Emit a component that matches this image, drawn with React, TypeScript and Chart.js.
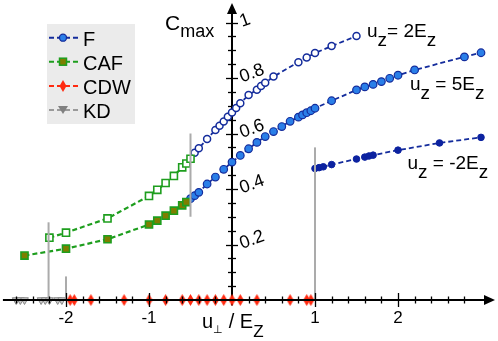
import React, { useEffect, useRef } from 'react';
import { Chart, registerables } from 'chart.js';

Chart.register(...registerables);

// ---------- data ----------
const F2_X = [-0.45, -0.4, -0.3, -0.2, -0.15, -0.1, -0.05, 0, 0.05, 0.1, 0.2, 0.3, 0.35, 0.4, 0.5, 0.8, 0.9, 1.0, 1.2, 1.5];
const F2_Y = [0.531, 0.547, 0.58, 0.613, 0.628, 0.643, 0.66, 0.676, 0.692, 0.709, 0.739, 0.758, 0.771, 0.783, 0.805, 0.857, 0.874, 0.89, 0.915, 0.951];

const F5_X = [-0.5, -0.45, -0.4, -0.3, -0.2, -0.1, 0, 0.1, 0.2, 0.3, 0.4, 0.5, 0.6, 0.7, 0.8, 0.85, 0.9, 0.95, 1.0, 1.2, 1.5, 1.6, 1.7, 1.8, 1.9, 2.0, 2.2, 2.8, 3.0];
const F5_Y = [0.365, 0.376, 0.388, 0.418, 0.443, 0.471, 0.497, 0.521, 0.545, 0.568, 0.589, 0.607, 0.625, 0.644, 0.659, 0.667, 0.675, 0.682, 0.691, 0.718, 0.757, 0.768, 0.777, 0.787, 0.799, 0.81, 0.829, 0.876, 0.891];

const FM2_X = [1.0, 1.05, 1.1, 1.2, 1.5, 1.6, 1.65, 1.7, 2.0, 2.5, 3.0];
const FM2_Y = [0.474, 0.477, 0.48, 0.488, 0.508, 0.515, 0.519, 0.522, 0.54, 0.566, 0.586];

const CAF2_X = [-2.2, -2.0, -1.5, -1.0, -0.9, -0.8, -0.7, -0.6, -0.55, -0.5];
const CAF2_Y = [0.2245, 0.2425, 0.294, 0.375, 0.397, 0.4216, 0.447, 0.478, 0.492, 0.509];

const CAF5_X = [-2.5, -2.0, -1.5, -1.0, -0.9, -0.8, -0.7, -0.6, -0.55];
const CAF5_Y = [0.16, 0.185, 0.219, 0.272, 0.286, 0.304, 0.322, 0.341, 0.353];

const CDW_X = [-1.95, -1.9, -1.7, -1.3, -1.0, -0.8, -0.6, -0.5, -0.4, -0.3, -0.2, -0.1, 0, 0.1, 0.3, 0.7, 0.9, 0.95];
const KD_X = [-2.6, -2.55, -2.5, -2.3, -2.25, -2.2, -2.1, -2.05];

const BOUNDARY_X = [-2.21, -2.0, -0.5, 1.0];
const BOUNDARY_Y0 = [0, 0, 0.3, 0];
const BOUNDARY_Y1 = [0.28, 0.085, 0.6, 0.55];

const X_TICK_VALUES = [-2, -1, 1, 2];
const X_TICK_LABELS = ['-2', '-1', '1', '2'];
const Y_TICK_VALUES = [0.2, 0.4, 0.6, 0.8, 1];
const Y_TICK_LABELS = ['0.2', '0.4', '0.6', '0.8', '1'];
const LEGEND_LABELS = ['F', 'CAF', 'CDW', 'KD'];

// ---------- styles ----------
const FONT = "'Liberation Sans', Arial, Helvetica, sans-serif";
const NAVY = '#142c9c';
const LIGHTBLUE = '#2a7fe8';
const DARKBLUE = '#0c22a0';
const GREEN = '#1e9e1e';
const OLIVE = '#7e7e00';
const RED = '#ff2a10';
const GRAY = '#9a9a9a';
const BOUND_GRAY = '#ababab';

function makeDiamond(w: number, h: number, color: string) {
  const c = document.createElement('canvas');
  c.width = w;
  c.height = h;
  const g = c.getContext('2d')!;
  g.fillStyle = color;
  g.beginPath();
  g.moveTo(w / 2, 0);
  g.lineTo(w, h / 2);
  g.lineTo(w / 2, h);
  g.lineTo(0, h / 2);
  g.closePath();
  g.fill();
  return c;
}

const zip = (xs: number[], ys: number[]) => xs.map((x, i) => ({ x, y: ys[i] }));

function drawRich(ctx: CanvasRenderingContext2D, x: number, y: number, parts: [string, number, number][]) {
  ctx.textAlign = 'left';
  ctx.textBaseline = 'alphabetic';
  for (const [t, size, dy] of parts) {
    ctx.font = `${size}px ${FONT}`;
    ctx.fillText(t, x, y + dy);
    x += ctx.measureText(t).width;
  }
}

const axesPlugin = {
  id: 'mathAxes',
  beforeDatasetsDraw(chart: any) {
    const ctx: CanvasRenderingContext2D = chart.ctx;
    const xs = chart.scales.x;
    const ys = chart.scales.y;
    const x0 = xs.getPixelForValue(0);
    ctx.save();
    ctx.strokeStyle = '#000';
    ctx.fillStyle = '#000';
    ctx.lineWidth = 2;
    // y axis
    ctx.beginPath();
    ctx.moveTo(x0, ys.getPixelForValue(-0.02));
    ctx.lineTo(x0, ys.getPixelForValue(1.04));
    ctx.stroke();
    // y ticks
    ctx.lineWidth = 1.3;
    for (let k = 1; k <= 20; k++) {
      const v = k * 0.05;
      const py = Math.round(ys.getPixelForValue(v)) + 0.5;
      const major = k % 4 === 0;
      const len = major ? 6 : 4;
      ctx.beginPath();
      ctx.moveTo(x0 - len, py);
      ctx.lineTo(x0 + len, py);
      ctx.stroke();
    }
    // y arrow
    const top = ys.getPixelForValue(1.0811) + 3;
    ctx.beginPath();
    ctx.moveTo(x0, top);
    ctx.lineTo(x0 - 5, top + 11);
    ctx.lineTo(x0 + 5, top + 11);
    ctx.closePath();
    ctx.fill();
    // y labels (rotated)
    ctx.font = `18px ${FONT}`;
    ctx.textAlign = 'left';
    ctx.textBaseline = 'alphabetic';
    Y_TICK_VALUES.forEach((v, i) => {
      const py = ys.getPixelForValue(v);
      ctx.save();
      ctx.translate(x0 + 10, py + 4.5);
      ctx.rotate(-Math.PI / 9);
      ctx.fillText(Y_TICK_LABELS[i], 0, 0);
      ctx.restore();
    });
    ctx.restore();
  },
  afterDatasetsDraw(chart: any) {
    const ctx: CanvasRenderingContext2D = chart.ctx;
    const xs = chart.scales.x;
    const ys = chart.scales.y;
    const y0 = ys.getPixelForValue(0);
    const x0 = xs.getPixelForValue(0);
    ctx.save();
    ctx.strokeStyle = '#000';
    ctx.fillStyle = '#000';
    ctx.lineWidth = 2;
    const right = xs.getPixelForValue(3.2048) - 3;
    ctx.beginPath();
    ctx.moveTo(xs.getPixelForValue(-2.76), y0);
    ctx.lineTo(right - 6, y0);
    ctx.stroke();
    ctx.beginPath();
    ctx.moveTo(right, y0);
    ctx.lineTo(right - 11, y0 - 5);
    ctx.lineTo(right - 11, y0 + 5);
    ctx.closePath();
    ctx.fill();
    // x ticks
    ctx.lineWidth = 1.3;
    for (let k = -13; k <= 14; k++) {
      if (k === 0) continue;
      const v = k * 0.2;
      const px = Math.round(xs.getPixelForValue(v)) + 0.5;
      const major = k % 5 === 0;
      const len = major ? 7 : 3.5;
      ctx.beginPath();
      ctx.moveTo(px, y0 - len);
      ctx.lineTo(px, y0 + len);
      ctx.stroke();
    }
    // x labels
    ctx.font = `17px ${FONT}`;
    ctx.textAlign = 'center';
    ctx.textBaseline = 'alphabetic';
    X_TICK_VALUES.forEach((v, i) => {
      ctx.fillText(X_TICK_LABELS[i], xs.getPixelForValue(v), y0 + 23);
    });
    // axis titles
    drawRich(ctx, x0 - 67, 30, [['C', 21, 0], ['max', 18, 7]]);
    drawRich(ctx, x0 - 30, y0 + 28, [['u', 20, 0], ['⊥', 11, 5], [' / E', 20, 0], ['Z', 17, 9]]);
    // annotations
    drawRich(ctx, 367, 37, [['u', 19, 0], ['z', 19, 9], ['= 2E', 19, 0], ['z', 19, 9]]);
    drawRich(ctx, 410, 90, [['u', 19, 0], ['z', 19, 9], [' = 5E', 19, 0], ['z', 19, 9]]);
    drawRich(ctx, 407.5, 169, [['u', 19, 0], ['z', 19, 9], [' = -2E', 19, 0], ['z', 19, 9]]);

    // legend
    ctx.fillStyle = '#ebebeb';
    ctx.fillRect(47, 24, 88, 100);
    const rows = [37.7, 61.7, 86, 110];
    const lineColors = [NAVY, GREEN, RED, GRAY];
    rows.forEach((ry, i) => {
      ctx.strokeStyle = lineColors[i];
      ctx.lineWidth = 2;
      ctx.setLineDash([5, 3]);
      ctx.beginPath();
      ctx.moveTo(49, ry);
      ctx.lineTo(78, ry);
      ctx.stroke();
      ctx.setLineDash([]);
      const mx = 63;
      if (i === 0) {
        ctx.fillStyle = LIGHTBLUE;
        ctx.strokeStyle = NAVY;
        ctx.lineWidth = 1.3;
        ctx.beginPath();
        ctx.arc(mx, ry, 3.5, 0, Math.PI * 2);
        ctx.fill();
        ctx.stroke();
      } else if (i === 1) {
        ctx.fillStyle = OLIVE;
        ctx.strokeStyle = GREEN;
        ctx.lineWidth = 1.5;
        ctx.fillRect(mx - 3.5, ry - 3.5, 7, 7);
        ctx.strokeRect(mx - 3.5, ry - 3.5, 7, 7);
      } else if (i === 2) {
        ctx.fillStyle = RED;
        ctx.beginPath();
        ctx.moveTo(mx, ry - 6);
        ctx.lineTo(mx + 3.5, ry);
        ctx.lineTo(mx, ry + 6);
        ctx.lineTo(mx - 3.5, ry);
        ctx.closePath();
        ctx.fill();
      } else {
        ctx.fillStyle = '#808080';
        ctx.beginPath();
        ctx.moveTo(mx - 5, ry - 4);
        ctx.lineTo(mx + 5, ry - 4);
        ctx.lineTo(mx, ry + 4);
        ctx.closePath();
        ctx.fill();
      }
      ctx.fillStyle = '#000';
      ctx.font = `20px ${FONT}`;
      ctx.textAlign = 'left';
      ctx.textBaseline = 'alphabetic';
      ctx.fillText(LEGEND_LABELS[i], 83, ry + 8.3);
    });
    ctx.restore();
  },
};

export default function App() {
  const ref = useRef<HTMLCanvasElement | null>(null);
  useEffect(() => {
    if (!ref.current) return;
    const diamond = makeDiamond(7, 12, RED);
    const boundaries = BOUNDARY_X.map((bx, i) => ({
      label: 'boundary',
      data: [
        { x: bx, y: BOUNDARY_Y0[i] },
        { x: bx, y: BOUNDARY_Y1[i] },
      ],
      showLine: true,
      borderColor: BOUND_GRAY,
      borderWidth: 2,
      pointRadius: 0,
      clip: false,
    }));
    const dash = [5, 3];
    const chart = new Chart(ref.current, {
      type: 'scatter',
      data: {
        datasets: [
          ...boundaries,
          {
            label: 'CAF',
            data: zip(CAF5_X, CAF5_Y),
            showLine: true,
            borderColor: GREEN,
            borderWidth: 2.2,
            borderDash: dash,
            pointStyle: 'rect',
            pointRadius: 5,
            pointBackgroundColor: OLIVE,
            pointBorderColor: GREEN,
            pointBorderWidth: 1.6,
            clip: false,
          },
          {
            label: 'CAF',
            data: zip(CAF2_X, CAF2_Y),
            showLine: true,
            borderColor: GREEN,
            borderWidth: 2.2,
            borderDash: dash,
            pointStyle: 'rect',
            pointRadius: 5,
            pointBackgroundColor: '#ffffff',
            pointBorderColor: GREEN,
            pointBorderWidth: 1.6,
            clip: false,
          },
          {
            label: 'F',
            data: zip(F2_X, F2_Y),
            showLine: true,
            borderColor: NAVY,
            borderWidth: 1.8,
            borderDash: dash,
            pointStyle: 'circle',
            pointRadius: 3.5,
            pointBackgroundColor: '#ffffff',
            pointBorderColor: NAVY,
            pointBorderWidth: 1.5,
            clip: false,
          },
          {
            label: 'F',
            data: zip(F5_X, F5_Y),
            showLine: true,
            borderColor: NAVY,
            borderWidth: 1.8,
            borderDash: dash,
            pointStyle: 'circle',
            pointRadius: 3.8,
            pointBackgroundColor: LIGHTBLUE,
            pointBorderColor: NAVY,
            pointBorderWidth: 1.2,
            clip: false,
          },
          {
            label: 'F',
            data: zip(FM2_X, FM2_Y),
            showLine: true,
            borderColor: NAVY,
            borderWidth: 1.8,
            borderDash: dash,
            pointStyle: 'circle',
            pointRadius: 3.3,
            pointBackgroundColor: DARKBLUE,
            pointBorderColor: DARKBLUE,
            pointBorderWidth: 1,
            clip: false,
          },
          {
            label: 'CDW',
            data: CDW_X.map((x) => ({ x, y: 0 })),
            showLine: true,
            borderColor: RED,
            borderWidth: 1.5,
            borderDash: dash,
            pointStyle: diamond,
            pointRadius: 5,
            clip: false,
          },
          {
            label: 'KD',
            data: KD_X.map((x) => ({ x, y: 0 })),
            showLine: true,
            borderColor: GRAY,
            borderWidth: 1.5,
            borderDash: dash,
            pointStyle: 'triangle',
            rotation: 180,
            pointRadius: 4.5,
            pointBackgroundColor: '#c8c8c8',
            pointBorderColor: '#8a8a8a',
            pointBorderWidth: 1,
            clip: false,
          },
        ] as any,
      },
      options: {
        animation: false,
        responsive: false,
        maintainAspectRatio: false,
        layout: { padding: 0, autoPadding: false },
        plugins: { legend: { display: false }, tooltip: { enabled: false } },
        scales: {
          x: { type: 'linear', min: -2.7952, max: 3.2048, display: false, bounds: 'data' },
          y: { type: 'linear', min: -0.14775, max: 1.0811, display: false, bounds: 'data' },
        },
      } as any,
      plugins: [axesPlugin],
    });
    return () => chart.destroy();
  }, []);
  return (
    <div style={{ position: 'absolute', left: 0, top: 0, width: 498, height: 341, background: '#fff' }}>
      <canvas ref={ref} width={498} height={341} style={{ display: 'block', width: 498, height: 341 }} />
    </div>
  );
}
